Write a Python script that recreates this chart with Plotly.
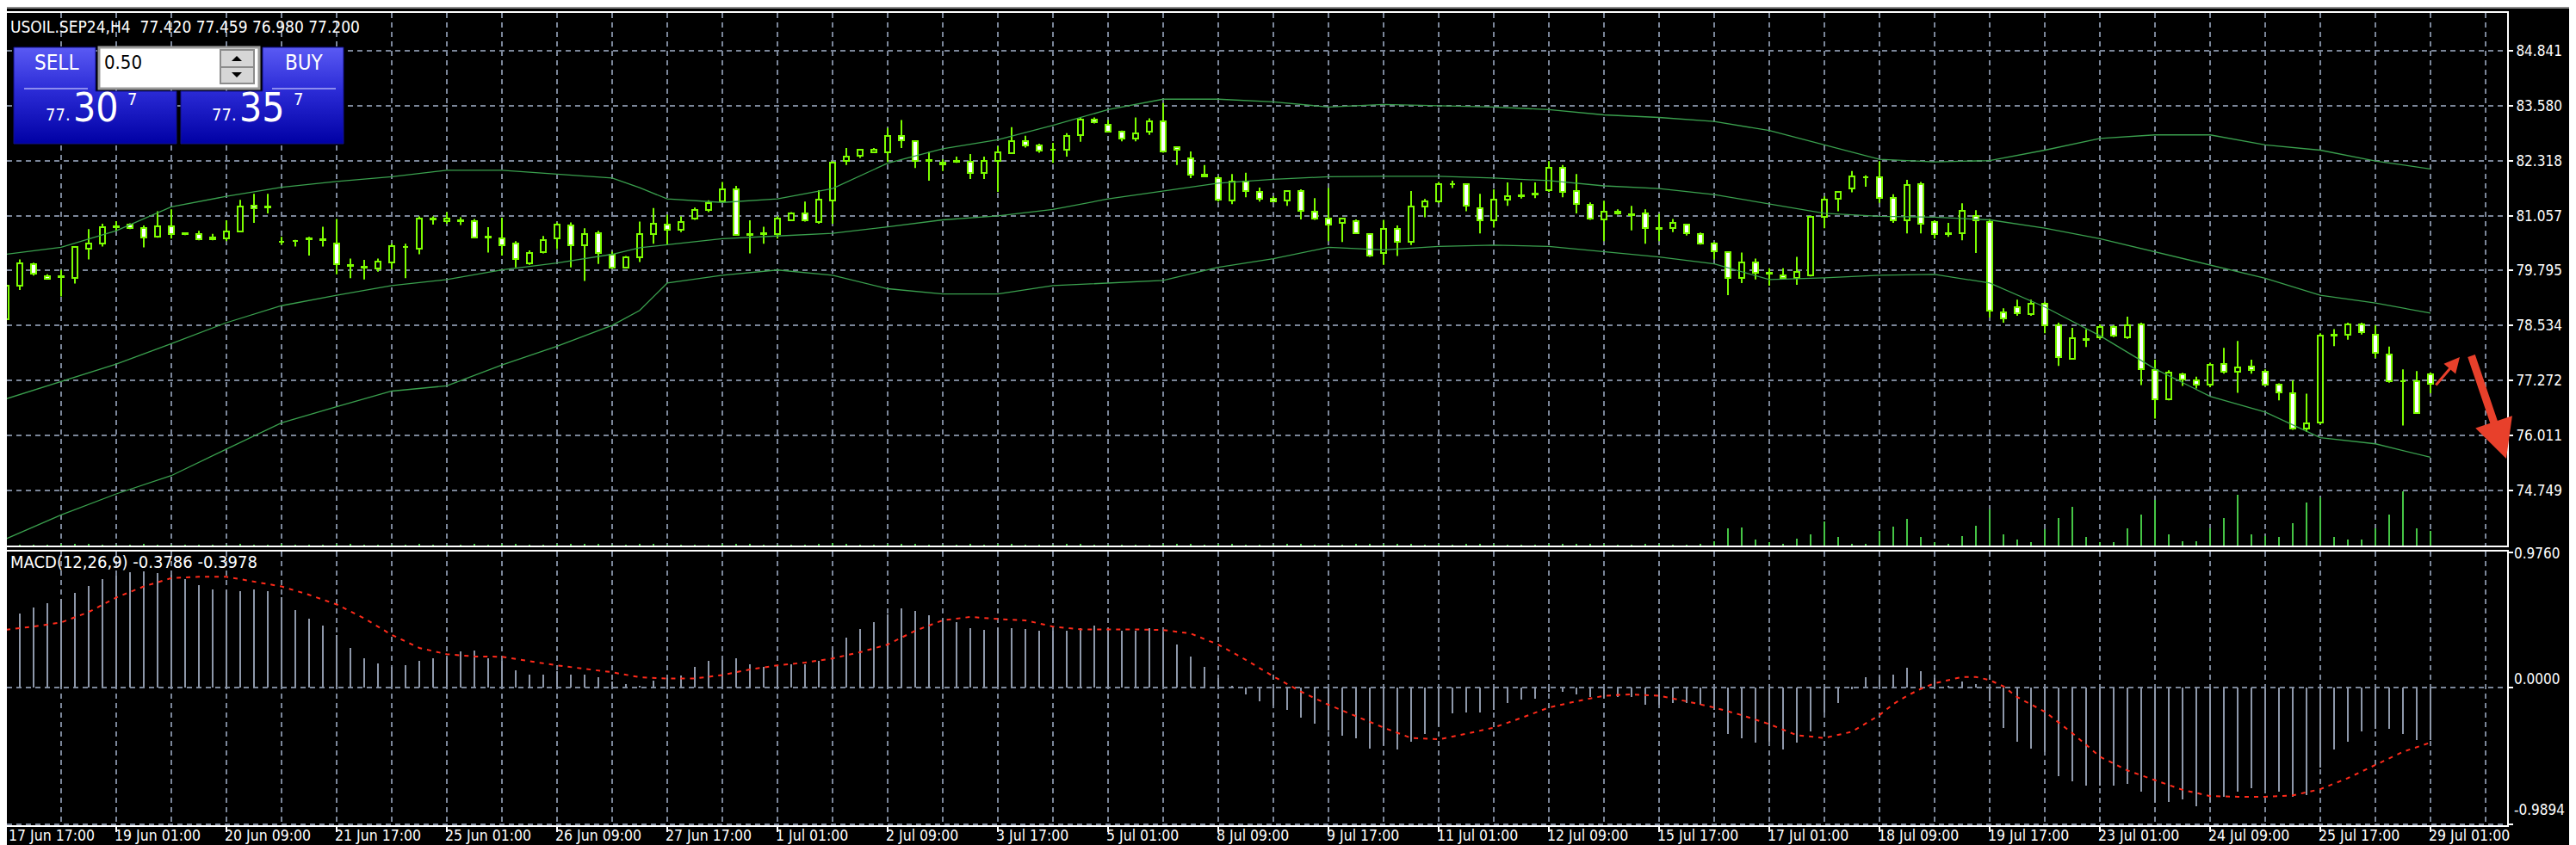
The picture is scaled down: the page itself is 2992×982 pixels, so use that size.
import plotly.graph_objects as go

W, H = 2992, 982

# ---------------- data ----------------
time_labels = ["17 Jun 17:00", "19 Jun 01:00", "20 Jun 09:00", "21 Jun 17:00", "25 Jun 01:00",
               "26 Jun 09:00", "27 Jun 17:00", "1 Jul 01:00", "2 Jul 09:00", "3 Jul 17:00",
               "5 Jul 01:00", "8 Jul 09:00", "9 Jul 17:00", "11 Jul 01:00", "12 Jul 09:00",
               "15 Jul 17:00", "17 Jul 01:00", "18 Jul 09:00", "19 Jul 17:00", "23 Jul 01:00",
               "24 Jul 09:00", "25 Jul 17:00", "29 Jul 01:00"]
label_every = 8

price_ticks = [84.841, 83.580, 82.318, 81.057, 79.795, 78.534, 77.272, 76.011, 74.749]
macd_ticks = [0.9760, 0.0000, -0.9894]

opens = [78.68, 79.44, 79.95, 79.67, 79.65, 79.62, 80.30, 80.42, 80.80, 80.86,
         80.77, 80.58, 80.82, 80.65, 80.64, 80.52, 80.53, 80.70, 81.29, 81.25,
         80.45, 80.47, 80.52, 80.49, 80.41, 79.90, 79.87, 79.84, 79.99, 80.34,
         80.29, 80.97, 80.94, 80.95, 80.94, 80.56, 80.53, 80.41, 79.96, 80.22,
         80.53, 80.83, 80.38, 80.65, 80.17, 79.87, 80.11, 80.63, 80.86, 80.74,
         80.98, 81.18, 81.38, 81.66, 80.62, 80.64, 80.63, 80.96, 81.11, 80.92,
         81.40, 82.31, 82.43, 82.51, 82.52, 82.88, 82.76, 82.32, 82.27, 82.31,
         82.29, 82.03, 82.32, 82.50, 82.76, 82.67, 82.56, 82.56, 82.90, 83.27,
         83.15, 82.98, 82.83, 82.99, 83.22, 82.62, 82.38, 82.00, 81.92, 81.40,
         81.83, 81.60, 81.44, 81.40, 81.62, 81.14, 80.99, 80.90, 80.94, 80.63,
         80.20, 80.75, 80.45, 81.26, 81.38, 81.77, 81.78, 81.22, 80.96, 81.42,
         81.51, 81.55, 81.64, 82.16, 81.62, 81.30, 80.97, 81.10, 81.08, 81.11,
         80.77, 80.77, 80.86, 80.63, 80.41, 80.21, 79.63, 79.99, 79.74, 79.69,
         79.63, 79.69, 81.02, 81.44, 81.68, 81.93, 81.93, 81.46, 80.95, 81.78,
         80.92, 80.64, 80.65, 81.05, 80.92, 78.84, 78.96, 78.80, 79.03, 78.54,
         77.78, 78.21, 78.26, 78.50, 78.26, 78.56, 77.51, 76.85, 77.41, 77.27,
         77.17, 77.66, 77.48, 77.59, 77.47, 77.17, 76.99, 76.18, 76.30, 78.31,
         78.33, 78.56, 78.33, 77.87, 77.25, 77.25, 77.42]
highs = [79.50, 80.05, 79.98, 79.71, 79.81, 80.35, 80.75, 80.87, 80.93, 80.88,
         80.83, 81.16, 81.20, 80.67, 80.71, 80.64, 80.95, 81.42, 81.56, 81.56,
         80.57, 80.50, 80.57, 80.80, 80.98, 80.07, 80.04, 80.07, 80.41, 80.41,
         81.04, 81.04, 81.14, 81.02, 80.98, 80.79, 81.01, 80.47, 80.26, 80.59,
         80.90, 80.90, 80.77, 80.71, 80.23, 80.13, 80.92, 81.23, 81.08, 81.04,
         81.24, 81.41, 81.83, 81.74, 80.95, 80.80, 81.04, 81.14, 81.38, 81.64,
         82.31, 82.61, 82.59, 82.61, 83.07, 83.25, 82.78, 82.52, 82.35, 82.41,
         82.47, 82.41, 82.65, 83.09, 82.89, 82.71, 82.73, 82.95, 83.31, 83.31,
         83.25, 83.01, 83.31, 83.29, 83.64, 82.65, 82.53, 82.22, 81.96, 82.01,
         82.04, 81.70, 81.50, 81.64, 81.66, 81.46, 81.69, 80.98, 80.97, 80.65,
         80.96, 80.83, 81.62, 81.44, 81.83, 81.86, 81.80, 81.56, 81.66, 81.82,
         81.82, 81.82, 82.31, 82.22, 82.01, 81.36, 81.40, 81.20, 81.28, 81.20,
         81.10, 80.98, 80.87, 80.67, 80.45, 80.24, 80.21, 80.07, 79.85, 79.85,
         80.11, 81.04, 81.50, 81.62, 82.08, 81.98, 82.31, 81.55, 81.88, 81.83,
         80.95, 80.89, 81.34, 81.18, 80.98, 78.93, 79.13, 79.13, 79.08, 78.60,
         78.48, 78.45, 78.56, 78.54, 78.74, 78.60, 77.75, 77.51, 77.45, 77.36,
         77.68, 78.02, 78.18, 77.75, 77.53, 77.21, 77.27, 76.97, 78.36, 78.45,
         78.60, 78.60, 78.54, 78.05, 77.53, 77.49, 77.459]
lows = [78.60, 79.35, 79.68, 79.60, 79.20, 79.50, 80.05, 80.35, 80.71, 80.75,
        80.33, 80.55, 80.53, 80.61, 80.49, 80.49, 80.47, 80.68, 80.89, 81.11,
        80.39, 80.35, 80.14, 80.35, 79.71, 79.62, 79.59, 79.77, 79.83, 79.62,
        80.17, 80.85, 80.87, 80.84, 80.55, 80.21, 80.14, 79.87, 79.93, 80.19,
        80.29, 79.87, 79.56, 79.95, 79.84, 79.85, 79.99, 80.41, 80.39, 80.68,
        80.96, 81.14, 81.35, 80.60, 80.19, 80.41, 80.53, 80.93, 80.92, 80.87,
        80.87, 82.22, 82.38, 82.49, 82.29, 82.61, 82.15, 81.86, 82.08, 82.27,
        81.90, 81.90, 81.60, 82.47, 82.62, 82.50, 82.27, 82.41, 82.75, 83.17,
        82.97, 82.76, 82.76, 82.91, 82.50, 82.22, 81.92, 81.96, 81.38, 81.32,
        81.48, 81.38, 81.37, 81.28, 80.97, 80.96, 80.47, 80.45, 80.64, 80.11,
        79.93, 80.13, 80.38, 81.02, 81.35, 81.69, 81.16, 80.65, 80.78, 81.28,
        81.45, 81.46, 81.60, 81.48, 81.11, 80.96, 80.47, 81.08, 80.72, 80.41,
        80.47, 80.68, 80.60, 80.39, 80.05, 79.23, 79.51, 79.59, 79.45, 79.61,
        79.47, 79.66, 80.77, 81.16, 81.59, 81.72, 81.35, 80.89, 80.65, 80.65,
        80.53, 80.57, 80.49, 80.20, 78.72, 78.60, 78.76, 78.76, 78.36, 77.61,
        77.75, 78.04, 78.23, 78.27, 78.23, 77.17, 76.40, 76.82, 77.15, 77.09,
        77.12, 77.43, 76.99, 77.43, 77.15, 76.82, 76.14, 76.09, 76.27, 78.06,
        78.21, 78.33, 77.79, 77.22, 76.24, 76.51, 76.98]
closes = [79.44, 79.97, 79.72, 79.61, 79.65, 80.33, 80.42, 80.80, 80.80, 80.77,
          80.56, 80.82, 80.63, 80.63, 80.52, 80.56, 80.70, 81.26, 81.23, 81.25,
          80.45, 80.47, 80.52, 80.52, 79.95, 79.92, 79.88, 80.00, 80.35, 80.33,
          80.98, 80.97, 80.99, 80.93, 80.56, 80.57, 80.38, 80.07, 80.19, 80.50,
          80.85, 80.38, 80.63, 80.19, 79.87, 80.11, 80.63, 80.87, 80.74, 80.92,
          81.18, 81.34, 81.66, 80.62, 80.64, 80.66, 80.99, 81.11, 80.96, 81.43,
          82.28, 82.42, 82.56, 82.56, 82.89, 82.78, 82.32, 82.32, 82.23, 82.30,
          82.03, 82.32, 82.52, 82.76, 82.67, 82.55, 82.56, 82.89, 83.27, 83.20,
          82.99, 82.83, 82.95, 83.23, 82.53, 82.56, 82.00, 81.96, 81.42, 81.83,
          81.62, 81.44, 81.38, 81.62, 81.17, 80.98, 80.86, 80.98, 80.66, 80.15,
          80.75, 80.45, 81.26, 81.38, 81.78, 81.77, 81.28, 80.95, 81.42, 81.50,
          81.51, 81.55, 82.16, 81.60, 81.32, 80.98, 81.14, 81.14, 81.07, 80.77,
          80.76, 80.90, 80.65, 80.41, 80.23, 79.63, 79.99, 79.75, 79.73, 79.63,
          79.76, 81.02, 81.42, 81.61, 81.95, 81.93, 81.47, 80.96, 81.76, 80.87,
          80.63, 80.65, 81.17, 80.96, 78.87, 78.70, 78.82, 79.04, 78.54, 77.81,
          78.24, 78.21, 78.50, 78.30, 78.54, 77.54, 76.85, 77.45, 77.29, 77.17,
          77.63, 77.48, 77.57, 77.51, 77.18, 77.00, 76.18, 76.28, 78.30, 78.33,
          78.56, 78.38, 77.90, 77.25, 77.25, 76.52, 77.20]
volumes = [150, 100, 80, 60, 120, 200, 150, 100, 60, 50, 120, 80, 100, 50, 60, 40, 90, 150, 100, 60,
           200, 80, 70, 90, 250, 120, 60, 50, 100, 90, 160, 60, 50, 40, 120, 100, 110, 140, 60, 90,
           120, 150, 160, 110, 80, 60, 140, 110, 90, 70, 80, 60, 120, 220, 140, 100, 90, 60, 80, 110,
           260, 120, 80, 60, 150, 130, 160, 100, 70, 60, 120, 90, 180, 140, 80, 60, 90, 110, 150, 60,
           70, 90, 100, 80, 230, 120, 140, 60, 150, 130, 90, 80, 60, 110, 130, 90, 180, 100, 110, 150,
           200, 140, 160, 90, 120, 60, 110, 130, 120, 90, 60, 50, 170, 140, 120, 110, 160, 60, 100, 130,
           120, 90, 100, 110,
           550, 2000, 2100, 700, 400, 200, 800, 1300, 2800, 1000, 200, 200, 1700, 2200, 3100, 1000,
           400, 200, 1100, 2300, 4200, 1300, 700, 400, 1900, 3200, 4500, 1000, 400, 400, 2000, 3600,
           5300, 1300, 550, 550, 2000, 3200, 5900, 1300, 1100, 1000, 2600, 5000, 5600, 1000, 700, 700,
           2000, 3600, 6300, 2000, 1700]

macd_main = [0.52, 0.535, 0.58, 0.607, 0.64, 0.684, 0.732, 0.784, 0.81, 0.83,
             0.84, 0.825, 0.815, 0.784, 0.742, 0.711, 0.705, 0.694, 0.711, 0.694,
             0.65, 0.56, 0.50, 0.448, 0.38, 0.286, 0.214, 0.172, 0.15, 0.162,
             0.193, 0.214, 0.22, 0.26, 0.266, 0.214, 0.19, 0.126, 0.09, 0.09,
             0.12, 0.09, 0.09, 0.076, 0.046, 0.027, 0.015, 0.05, 0.065, 0.084,
             0.15, 0.19, 0.20, 0.21, 0.17, 0.15, 0.16, 0.17, 0.17, 0.19,
             0.27, 0.36, 0.42, 0.47, 0.53, 0.57, 0.55, 0.52, 0.50, 0.47,
             0.43, 0.415, 0.43, 0.43, 0.42, 0.41, 0.41, 0.41, 0.43, 0.445,
             0.43, 0.41, 0.41, 0.43, 0.40, 0.31, 0.225, 0.15, 0.065, 0.01,
             -0.05, -0.10, -0.13, -0.16, -0.22, -0.26, -0.31, -0.35, -0.37, -0.44,
             -0.42, -0.45, -0.39, -0.335, -0.28, -0.19, -0.18, -0.18, -0.16, -0.11,
             -0.09, -0.08, -0.03, -0.03, -0.05, -0.07, -0.075, -0.07, -0.07, -0.125,
             -0.125, -0.11, -0.11, -0.125, -0.16, -0.335, -0.37, -0.40, -0.39, -0.45,
             -0.40, -0.32, -0.18, -0.11, -0.01, 0.076, 0.08, 0.09, 0.14, 0.115,
             0.065, 0.015, 0.045, 0.027, -0.10, -0.29, -0.39, -0.44, -0.47, -0.64,
             -0.68, -0.71, -0.71, -0.71, -0.70, -0.75, -0.83, -0.83, -0.81, -0.86,
             -0.83, -0.79, -0.75, -0.73, -0.74, -0.75, -0.79, -0.78, -0.58, -0.45,
             -0.39, -0.32, -0.30, -0.30, -0.335, -0.38, -0.3786]

signal_bars = [0, 2, 4, 6, 8, 10, 12, 14, 16, 18, 20, 22, 24, 26, 28, 30, 32, 34, 36, 38,
               40, 42, 44, 46, 48, 50, 52, 54, 56, 58, 60, 62, 64, 66, 68, 70, 72, 74, 76, 78,
               80, 82, 84, 86, 88, 90, 92, 94, 96, 98, 100, 102, 104, 106, 108, 110, 112, 114, 116, 118,
               120, 122, 124, 126, 128, 130, 132, 134, 136, 137, 138, 139, 140, 142, 143, 144, 145, 146, 147, 148,
               150, 152, 154, 156, 158, 160, 162, 164, 166, 168, 170, 172, 174, 176]
signal_vals = [0.417, 0.44, 0.47, 0.545, 0.65, 0.73, 0.79, 0.80, 0.80, 0.763, 0.73, 0.67, 0.60, 0.50, 0.38, 0.286, 0.24, 0.224, 0.222, 0.19,
               0.16, 0.135, 0.11, 0.074, 0.065, 0.065, 0.09, 0.13, 0.16, 0.18, 0.21, 0.255, 0.31, 0.41, 0.485, 0.51, 0.495, 0.485, 0.44, 0.42,
               0.42, 0.42, 0.415, 0.39, 0.31, 0.20, 0.08, -0.03, -0.125, -0.21, -0.29, -0.365, -0.375, -0.335, -0.29, -0.22, -0.145, -0.10, -0.06, -0.05,
               -0.06, -0.10, -0.145, -0.20, -0.265, -0.345, -0.365, -0.32, -0.20, -0.12, -0.06, -0.01, 0.03, 0.076, 0.076, 0.053, 0.008, -0.07, -0.125, -0.175,
               -0.33, -0.50, -0.60, -0.67, -0.74, -0.785, -0.79, -0.79, -0.78, -0.735, -0.655, -0.56, -0.465, -0.3978]

bb_bars = [0, 4, 8, 12, 16, 20, 24, 28, 32, 36, 40, 44, 46, 48, 52, 56, 60, 64, 68, 72, 76, 80, 84, 88,
           92, 96, 100, 104, 108, 112, 116, 120, 124, 128, 132, 136, 140, 144, 148, 152, 156, 160, 164, 168, 172, 176]
bb_upper = [80.17, 80.33, 80.71, 81.26, 81.50, 81.71, 81.84, 81.95, 82.10, 82.10, 82.01, 81.92, 81.70, 81.44, 81.36, 81.44,
            81.68, 82.26, 82.59, 82.80, 83.13, 83.49, 83.73, 83.73, 83.67, 83.55, 83.61, 83.58, 83.55, 83.49, 83.37, 83.31,
            83.22, 83.01, 82.68, 82.35, 82.29, 82.32, 82.56, 82.83, 82.91, 82.91, 82.68, 82.56, 82.31, 82.13]
bb_middle = [76.85, 77.25, 77.65, 78.12, 78.60, 78.99, 79.23, 79.45, 79.59, 79.81, 79.97, 80.17, 80.32, 80.39, 80.53, 80.59,
             80.65, 80.80, 80.96, 81.05, 81.20, 81.44, 81.62, 81.80, 81.89, 81.95, 81.96, 81.96, 81.92, 81.86, 81.74, 81.68,
             81.54, 81.32, 81.11, 81.04, 81.02, 80.96, 80.77, 80.53, 80.23, 79.93, 79.62, 79.23, 79.05, 78.82]
bb_lower = [73.64, 74.19, 74.67, 75.09, 75.70, 76.30, 76.67, 77.03, 77.15, 77.63, 78.06, 78.54, 78.88, 79.51, 79.69, 79.81,
            79.69, 79.38, 79.26, 79.26, 79.45, 79.51, 79.57, 79.87, 80.07, 80.33, 80.27, 80.35, 80.38, 80.35, 80.23, 80.11,
            79.95, 79.59, 79.63, 79.69, 79.71, 79.51, 78.96, 78.30, 77.54, 76.91, 76.55, 75.96, 75.82, 75.51]

header_text = "USOIL.SEP24,H4\u00a0\u00a077.420 77.459 76.980 77.200"
macd_text = "MACD(12,26,9) -0.3786 -0.3978"

# ---------------- styling ----------------
FONT = "DejaVu Sans Condensed, DejaVu Sans, sans-serif"
GRID = "#7b8699"
DASH = "6px,5px"
CANDLE = "#7CFC00"
BAND = "#3aa04e"
YOFF = 6   # annotation text renders slightly low; lift it
XOFF = 6   # annotation box padding on the left

bars = list(range(len(opens)))

XD = 2904 / W
main_dom = [1 - 626 / H, 1 - 7 / H]
macd_dom = [1 - 951 / H, 1 - 633 / H]
px_per_price = 50.633
price_rng = [84.841 - (626 - 51) / px_per_price, 84.841 + (51 - 7) / px_per_price]
px_per_macd = 160.78
macd_rng = [-0.9894 - 1 / px_per_macd, 0.9760 + 1 / px_per_macd]
x_rng = [1 / 16, 2905 / 16]

fig = go.Figure()

fig.add_trace(go.Bar(x=bars, y=volumes, width=0.13, marker=dict(color="#45c545", line=dict(width=0)),
                     xaxis="x", yaxis="y3", hoverinfo="skip"))

wx, wy = [], []
for i, o, h, l, c in zip(bars, opens, highs, lows, closes):
    top, bot = max(o, c), min(o, c)
    wx += [i, i, None, i, i, None]
    wy += [top, h, None, l, bot, None]
fig.add_trace(go.Scatter(x=wx, y=wy, mode="lines", line=dict(color=CANDLE, width=2),
                         xaxis="x", yaxis="y", hoverinfo="skip"))

base = [min(o, c) for o, c in zip(opens, closes)]
size = [max(abs(c - o), 0.012) for o, c in zip(opens, closes)]
fill = ["#ffffff" if c <= o else "#000000" for o, c in zip(opens, closes)]
fig.add_trace(go.Bar(x=bars, y=size, base=base, width=0.4,
                     marker=dict(color=fill, line=dict(color=CANDLE, width=2)),
                     xaxis="x", yaxis="y", hoverinfo="skip"))

for band in (bb_upper, bb_middle, bb_lower):
    fig.add_trace(go.Scatter(x=bb_bars, y=band, mode="lines", line=dict(color=BAND, width=1.3),
                             xaxis="x", yaxis="y", hoverinfo="skip"))

fig.add_trace(go.Bar(x=bars, y=macd_main, width=0.125, marker=dict(color="#8e98aa", line=dict(width=0)),
                     xaxis="x2", yaxis="y2", hoverinfo="skip"))
fig.add_trace(go.Scatter(x=signal_bars, y=signal_vals, mode="lines",
                         line=dict(color="#ff2a1a", width=2, dash="5px,6px"),
                         xaxis="x2", yaxis="y2", hoverinfo="skip"))

# trade panel (pixel overlay axes x3 / y4)
sell_x = [8, 103, 103, 197, 197, 8, 8]
sell_y = [47, 47, 98, 98, 159, 159, 47]
buy_x = [297, 391, 391, 202, 202, 297, 297]
buy_y = [47, 47, 159, 159, 98, 98, 47]
for px, py in ((sell_x, sell_y), (buy_x, buy_y)):
    fig.add_trace(go.Scatter(x=px, y=py, mode="lines", fill="toself",
                             line=dict(color="#10108a", width=1),
                             fillgradient=dict(type="vertical", start=47, stop=159,
                                               colorscale=[[0, "#5a5af4"], [0.45, "#2b2bd6"], [1, "#0000a4"]]),
                             xaxis="x3", yaxis="y4", hoverinfo="skip"))

shapes = [
    dict(type="rect", xref="x3", yref="y4", x0=107, x1=293, y0=47, y1=95,
         fillcolor="white", line=dict(color="#9a9a9a", width=3), layer="above"),
    dict(type="rect", xref="x3", yref="y4", x0=248, x1=287, y0=50, y1=89,
         fillcolor="#d6d6d6", line=dict(color="#8c8c8c", width=2), layer="above"),
    dict(type="line", xref="x3", yref="y4", x0=248, x1=287, y0=70, y1=70,
         line=dict(color="#8c8c8c", width=2), layer="above"),
    dict(type="path", xref="x3", yref="y4", path="M 261 63 L 273 63 L 267 57 Z",
         fillcolor="black", line=dict(width=0), layer="above"),
    dict(type="path", xref="x3", yref="y4", path="M 261 76 L 273 76 L 267 82 Z",
         fillcolor="black", line=dict(width=0), layer="above"),
    dict(type="line", xref="x3", yref="y4", x0=20, x1=94, y0=95, y1=95,
         line=dict(color="#8d8dee", width=2)),
    dict(type="line", xref="x3", yref="y4", x0=308, x1=382, y0=95, y1=95,
         line=dict(color="#8d8dee", width=2)),
    dict(type="line", xref="paper", yref="paper", x0=0, x1=1, y0=1 - 1 / H, y1=1 - 1 / H,
         line=dict(color="#8a8a8a", width=2)),
]

ann = []
def txt(x, y, s, size, color="white", xanchor="left", xref="x3", yref="y4"):
    ann.append(dict(x=x, y=y, xref=xref, yref=yref, text=s, showarrow=False, xanchor=xanchor,
                    yanchor="middle", font=dict(family=FONT, size=size, color=color)))

txt((8 - XOFF) / W, 1 - (25 - 2) / H, header_text, 19, xref="paper", yref="paper")
txt((8 - XOFF) / W, 1 - (651 - YOFF) / H, macd_text, 20, xref="paper", yref="paper")
txt(57, 71 - YOFF, "SELL", 24, xanchor="center")
txt(345, 71 - YOFF, "BUY", 24, xanchor="center")
txt(111, 71 - YOFF, "0.50", 22, color="black")
txt(43, 131 - YOFF, "77.", 20)
txt(75, 123 - YOFF, "30", 46)
txt(138, 113 - YOFF, "7", 20)
txt(236, 131 - YOFF, "77.", 20)
txt(268, 123 - YOFF, "35", 46)
txt(331, 113 - YOFF, "7", 20)

for v, ypx in zip(macd_ticks, [641, 787, 939]):
    txt(2910 / W, 1 - (ypx - YOFF) / H, f"{v:.4f}", 17, xref="paper", yref="paper")

for k, lab in enumerate(time_labels):
    xpix = max(16 * k * label_every - 1 + 2 - XOFF, 0)
    ann.append(dict(x=xpix / W, y=1 - (969 - YOFF) / H, xref="paper", yref="paper", text=lab,
                    showarrow=False, xanchor="left", yanchor="middle",
                    font=dict(family=FONT, size=17.5, color="white")))

ann.append(dict(x=2849, y=407, xref="x3", yref="y4", ax=2820, ay=441, axref="x3", ayref="y4",
                text="", showarrow=True, arrowhead=2, arrowsize=1.2, arrowwidth=3, arrowcolor="#e8402b"))
ann.append(dict(x=2903, y=525, xref="x3", yref="y4", ax=2862, ay=404, axref="x3", ayref="y4",
                text="", showarrow=True, arrowhead=2, arrowsize=1, arrowwidth=9, arrowcolor="#e8402b"))

grid = dict(showgrid=True, gridcolor=GRID, griddash=DASH, gridwidth=2)

fig.update_layout(
    width=W, height=H, margin=dict(l=0, r=0, t=0, b=0),
    paper_bgcolor="black", plot_bgcolor="rgba(0,0,0,0)",
    showlegend=False, barmode="overlay", bargap=0,
    shapes=shapes, annotations=ann,
    xaxis=dict(domain=[0, XD], range=x_rng, anchor="y", tickmode="linear", tick0=0, dtick=4,
               showticklabels=False, ticks="", zeroline=False,
               showline=True, mirror=True, linecolor="white", linewidth=2, **grid),
    yaxis=dict(domain=main_dom, range=price_rng, anchor="x", side="right",
               tickmode="array", tickvals=price_ticks, ticktext=[f"{v:.3f}" for v in price_ticks],
               ticks="outside", ticklen=5, tickwidth=2, tickcolor="white",
               tickfont=dict(family=FONT, size=17, color="white"), zeroline=False,
               showline=True, linecolor="white", linewidth=2, **grid),
    yaxis3=dict(overlaying="y", range=[0, 61900], visible=False),
    xaxis2=dict(domain=[0, XD], range=x_rng, anchor="y2", tickmode="linear", tick0=0, dtick=8,
                showticklabels=False, ticks="outside", ticklen=6, tickwidth=2, tickcolor="white",
                zeroline=False, showline=True, mirror=True, linecolor="white", linewidth=2,
                minor=dict(tick0=0, dtick=4, showgrid=True, gridcolor=GRID, griddash=DASH, gridwidth=2, ticks=""),
                **grid),
    yaxis2=dict(domain=macd_dom, range=macd_rng, anchor="x2", side="right",
                tickmode="array", tickvals=macd_ticks, showticklabels=False,
                ticks="outside", ticklen=5, tickwidth=2, tickcolor="white", zeroline=False,
                showline=True, linecolor="white", linewidth=2, **grid),
    xaxis3=dict(overlaying="x", range=[0, 2904], visible=False),
    yaxis4=dict(overlaying="y", range=[626, 7], visible=False),
)

fig.write_html("out.html")
